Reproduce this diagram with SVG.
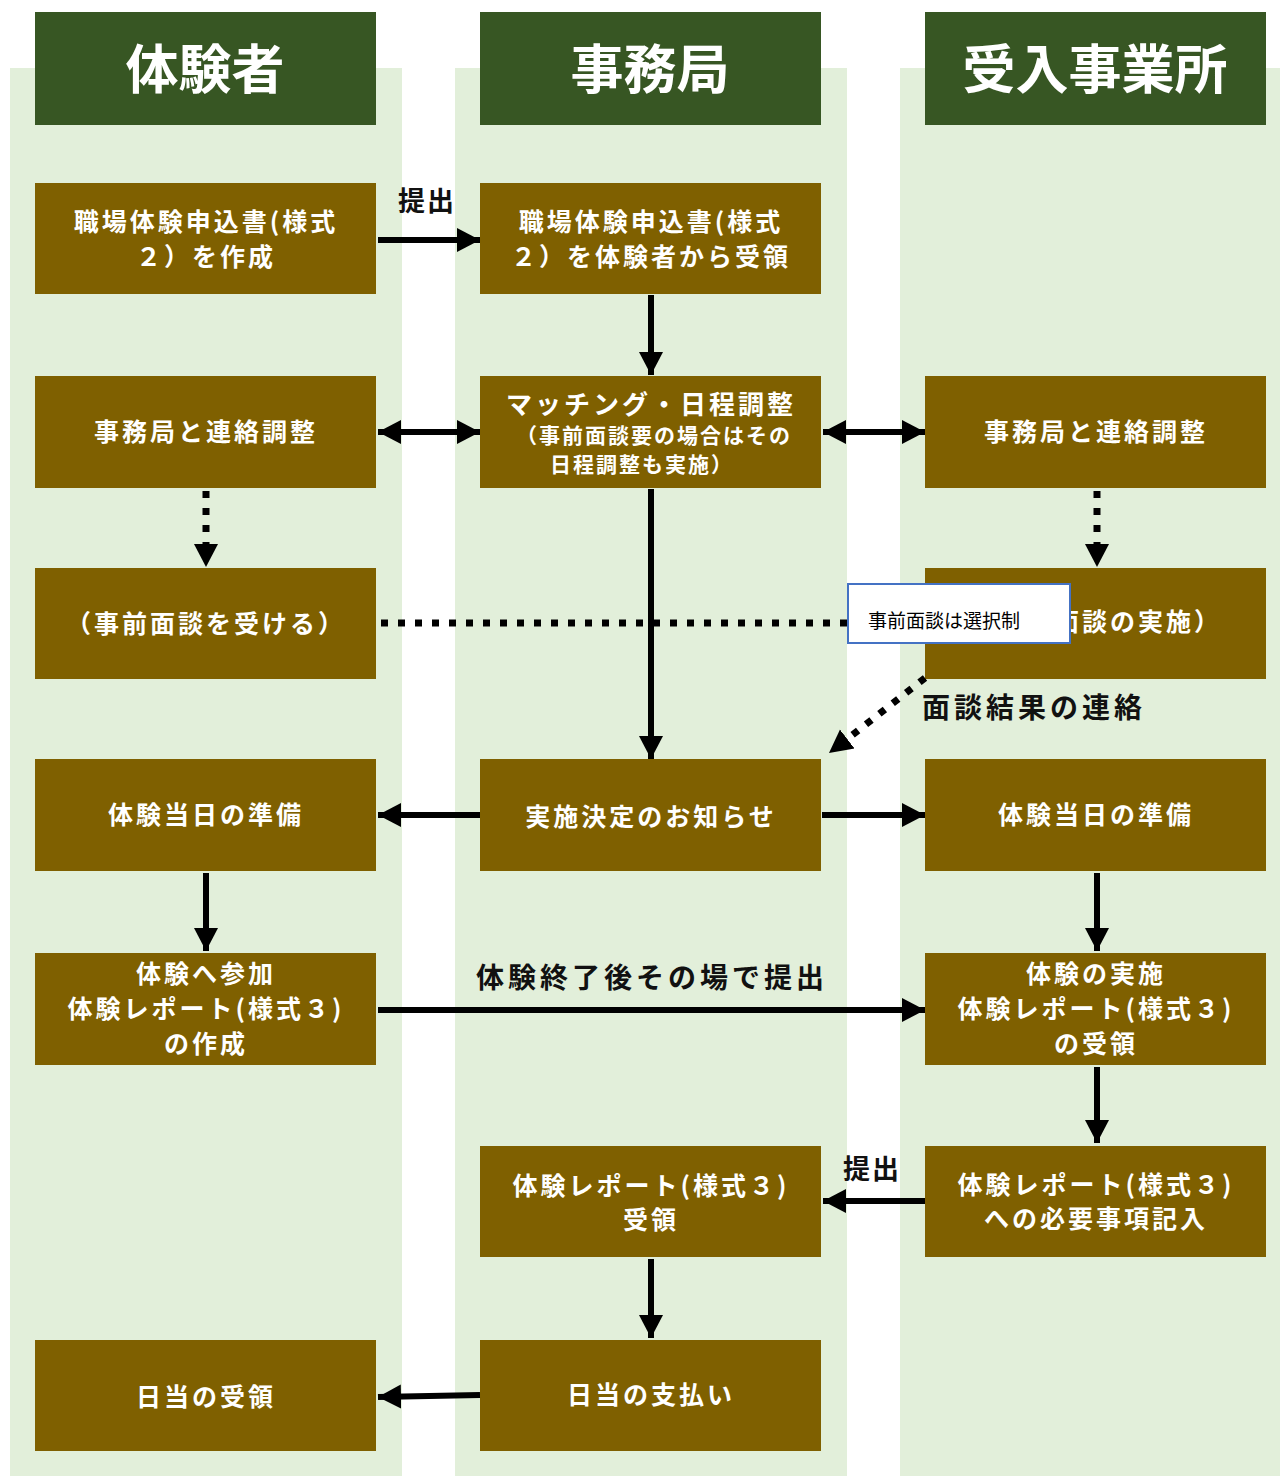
<svg xmlns="http://www.w3.org/2000/svg" width="1280" height="1476" viewBox="0 0 1280 1476">
<style>
.lane{fill:#e2efda}
.hdr{fill:#375623}
.box{fill:#7f6000}
.ht{font-family:"Noto Sans CJK JP","Noto Sans",sans-serif;font-weight:700;font-size:53px;fill:#fff;text-anchor:middle;dominant-baseline:central}
.bt{font-family:"Noto Sans CJK JP","Noto Sans",sans-serif;font-weight:700;font-size:25px;letter-spacing:3px;fill:#fff;text-anchor:middle;dominant-baseline:central}
.st{font-family:"Noto Sans CJK JP","Noto Sans",sans-serif;font-weight:700;font-size:21px;letter-spacing:2px;fill:#fff;text-anchor:middle;dominant-baseline:central}
.lb{font-family:"Noto Sans CJK JP","Noto Sans",sans-serif;font-weight:700;font-size:28px;letter-spacing:4px;fill:#111;dominant-baseline:central}
.ln{stroke:#000;stroke-width:6;fill:none}
.dt{stroke:#000;stroke-width:7;fill:none;stroke-dasharray:7 10}
</style>
<defs>
<marker id="ah" markerUnits="userSpaceOnUse" markerWidth="26" markerHeight="26" refX="23" refY="13" orient="auto-start-reverse">
<path d="M0,1 L23,13 L0,25 Z" fill="#000"/>
</marker>
</defs>
<rect width="1280" height="1476" fill="#fff"/>
<g id="lanes">
<rect class="lane" x="10" y="68" width="392" height="1408"/>
<rect class="lane" x="455" y="68" width="392" height="1408"/>
<rect class="lane" x="900" y="68" width="380" height="1408"/>
</g>
<g id="header-taikensha"><rect class="hdr" x="35" y="12" width="341" height="113"/><text class="ht" x="205" y="66">体験者</text></g>
<g id="header-jimukyoku"><rect class="hdr" x="480" y="12" width="341" height="113"/><text class="ht" x="650" y="66">事務局</text></g>
<g id="header-ukeire"><rect class="hdr" x="925" y="12" width="341" height="113"/><text class="ht" x="1095" y="66">受入事業所</text></g>

<g id="n1a"><rect class="box" x="35" y="183" width="341" height="111"/><text class="bt" x="206" y="220">職場体験申込書(様式</text><text class="bt" x="206" y="255">２）を作成</text></g>
<g id="n1b"><rect class="box" x="480" y="183" width="341" height="111"/><text class="bt" x="651" y="220">職場体験申込書(様式</text><text class="bt" x="651" y="255">２）を体験者から受領</text></g>

<g id="n2a"><rect class="box" x="35" y="376" width="341" height="112"/><text class="bt" x="206" y="430">事務局と連絡調整</text></g>
<g id="n2b"><rect class="box" x="480" y="376" width="341" height="112"/><text class="bt" x="651" y="402" style="font-size:26px">マッチング・日程調整</text><text class="st" x="654" y="434">（事前面談要の場合はその</text><text class="st" x="642" y="463">日程調整も実施）</text></g>
<g id="n2c"><rect class="box" x="925" y="376" width="341" height="112"/><text class="bt" x="1096" y="430">事務局と連絡調整</text></g>

<g id="n3a"><rect class="box" x="35" y="568" width="341" height="111"/><text class="bt" x="206" y="622">（事前面談を受ける）</text></g>
<g id="n3c"><rect class="box" x="925" y="568" width="341" height="111"/><text class="bt" x="1096" y="620">（事前面談の実施）</text></g>

<g id="n4a"><rect class="box" x="35" y="759" width="341" height="112"/><text class="bt" x="206" y="813">体験当日の準備</text></g>
<g id="n4b"><rect class="box" x="480" y="759" width="341" height="112"/><text class="bt" x="651" y="815">実施決定のお知らせ</text></g>
<g id="n4c"><rect class="box" x="925" y="759" width="341" height="112"/><text class="bt" x="1096" y="813">体験当日の準備</text></g>

<g id="n5a"><rect class="box" x="35" y="953" width="341" height="112"/><text class="bt" x="206" y="972">体験へ参加</text><text class="bt" x="206" y="1007">体験レポート(様式３)</text><text class="bt" x="206" y="1042">の作成</text></g>
<g id="n5c"><rect class="box" x="925" y="953" width="341" height="112"/><text class="bt" x="1096" y="972">体験の実施</text><text class="bt" x="1096" y="1007">体験レポート(様式３)</text><text class="bt" x="1096" y="1042">の受領</text></g>

<g id="n6b"><rect class="box" x="480" y="1146" width="341" height="111"/><text class="bt" x="651" y="1184">体験レポート(様式３)</text><text class="bt" x="651" y="1218">受領</text></g>
<g id="n6c"><rect class="box" x="925" y="1146" width="341" height="111"/><text class="bt" x="1096" y="1183">体験レポート(様式３)</text><text class="bt" x="1096" y="1217">への必要事項記入</text></g>

<g id="n7a"><rect class="box" x="35" y="1340" width="341" height="111"/><text class="bt" x="206" y="1395">日当の受領</text></g>
<g id="n7b"><rect class="box" x="480" y="1340" width="341" height="111"/><text class="bt" x="651" y="1393">日当の支払い</text></g>

<g id="connectors">
<line class="ln" x1="378" y1="240" x2="480" y2="240" marker-end="url(#ah)"/>
<line class="ln" x1="651" y1="295" x2="651" y2="375" marker-end="url(#ah)"/>
<line class="ln" x1="378" y1="432" x2="480" y2="432" marker-start="url(#ah)" marker-end="url(#ah)"/>
<line class="ln" x1="823" y1="432" x2="925" y2="432" marker-start="url(#ah)" marker-end="url(#ah)"/>
<line class="dt" x1="206" y1="491" x2="206" y2="548"/>
<line class="ln" x1="206" y1="545" x2="206" y2="567" marker-end="url(#ah)" style="stroke-width:0"/>
<line class="dt" x1="1097" y1="491" x2="1097" y2="548"/>
<line class="ln" x1="1097" y1="545" x2="1097" y2="567" marker-end="url(#ah)" style="stroke-width:0"/>
<line class="dt" x1="381" y1="623" x2="848" y2="623"/>
<line class="ln" x1="651" y1="489" x2="651" y2="759" marker-end="url(#ah)"/>
<line class="dt" x1="925" y1="678" x2="846" y2="740"/>
<line class="ln" x1="846" y1="740" x2="829" y2="753" marker-end="url(#ah)" style="stroke-width:0"/>
<line class="ln" x1="480" y1="815" x2="378" y2="815" marker-end="url(#ah)"/>
<line class="ln" x1="822" y1="815" x2="925" y2="815" marker-end="url(#ah)"/>
<line class="ln" x1="206" y1="873" x2="206" y2="951" marker-end="url(#ah)"/>
<line class="ln" x1="1097" y1="873" x2="1097" y2="951" marker-end="url(#ah)"/>
<line class="ln" x1="378" y1="1010" x2="925" y2="1010" marker-end="url(#ah)"/>
<line class="ln" x1="1097" y1="1067" x2="1097" y2="1143" marker-end="url(#ah)"/>
<line class="ln" x1="925" y1="1201" x2="823" y2="1201" marker-end="url(#ah)"/>
<line class="ln" x1="651" y1="1259" x2="651" y2="1338" marker-end="url(#ah)"/>
<line class="ln" x1="480" y1="1395" x2="378" y2="1397" marker-end="url(#ah)"/>
<text class="lb" x="398" y="199" style="font-size:27px;letter-spacing:2px">提出</text>
<text class="lb" x="922" y="706">面談結果の連絡</text>
<text class="lb" x="476" y="976">体験終了後その場で提出</text>
<text class="lb" x="843" y="1167" style="font-size:27px;letter-spacing:2px">提出</text>
</g>
<g id="callout">
<rect x="848" y="584" width="222" height="59" fill="#fff" stroke="#4472c4" stroke-width="2"/>
<text x="868" y="619" style="font-family:'Noto Sans CJK JP','Noto Sans',sans-serif;font-size:19px;fill:#000;dominant-baseline:central">事前面談は選択制</text>
</g>
</svg>
